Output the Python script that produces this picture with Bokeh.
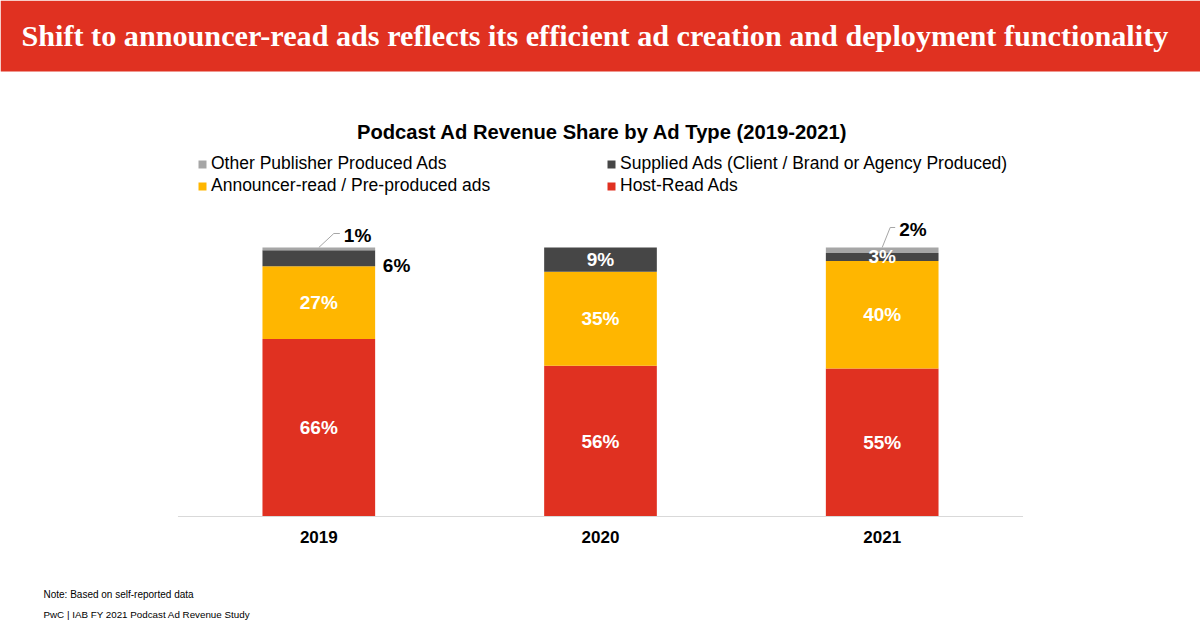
from bokeh.plotting import figure
from bokeh.models import (ColumnDataSource, FactorRange, Range1d, Label,
                          BoxAnnotation, Legend, LegendItem)
from bokeh.core.properties import value
from bokeh.embed import file_html
from bokeh.resources import INLINE

# ---------------- data ----------------
years = ["2019", "2020", "2021"]
host_read = [66, 56, 55]
announcer_read = [27, 35, 40]
supplied = [6, 9, 3]
other_publisher = [1, 0, 2]

series_keys = ["host", "announcer", "supplied", "other"]
series_names = ["Host-Read Ads", "Announcer-read / Pre-produced ads",
                "Supplied Ads (Client / Brand or Agency Produced)",
                "Other Publisher Produced Ads"]
series_colors = ["#E03121", "#FFB600", "#464646", "#A6A6A6"]

header_text = "Shift to announcer-read ads reflects its efficient ad creation and deployment functionality"
chart_title = "Podcast Ad Revenue Share by Ad Type (2019-2021)"
note_text = "Note: Based on self-reported data"
source_text = "PwC  |  IAB FY 2021 Podcast Ad Revenue Study"

RED = "#E03121"
SANS = "Liberation Sans"

values = {"host": host_read, "announcer": announcer_read,
          "supplied": supplied, "other": other_publisher}

src = ColumnDataSource(dict(year=years, **values))

p = figure(width=1200, height=642,
           x_range=FactorRange(*years, range_padding=0.63, range_padding_units="absolute"),
           y_range=Range1d(-46.84, 191.82),
           output_backend="svg", toolbar_location=None, min_border=0,
           x_axis_location=None, y_axis_location=None,
           outline_line_color=None, background_fill_color="white",
           border_fill_color="white")
p.grid.visible = False

renderers = p.vbar_stack(series_keys, x="year", width=0.40, color=series_colors,
                         line_color=None, source=src)

# baseline
p.segment(x0=[0], y0=[0], x1=[len(years)], y1=[0], line_color="#D9D9D9", line_width=1.2)

# year labels
p.text(x=years, y=[0] * len(years), text=years, y_offset=21,
       text_align="center", text_baseline="middle",
       text_font=value(SANS), text_font_style="bold", text_font_size="17px",
       text_color="#000000")

# segment labels
in_x, in_y, in_t = [], [], []
out_x, out_y, out_t, out_dx, out_dy = [], [], [], [], []
lead_xs, lead_ys = [], []
for i, yr in enumerate(years):
    base = 0
    for key in series_keys:
        v = values[key][i]
        mid = base + v / 2
        top = base + v
        base = top
        if v == 0:
            continue
        txt = f"{v}%"
        if key == "other":
            cx = i + 0.5
            if yr == "2019":
                lead_xs.append([cx, cx + 15 / 281.6, cx + 21 / 281.6])
                lead_ys.append([top, top + 14 / 2.69, top + 14 / 2.69])
                out_x.append(yr); out_y.append(top); out_t.append(txt)
                out_dx.append(25); out_dy.append(-12)
            else:
                lead_xs.append([cx, cx + 8 / 281.6, cx + 13 / 281.6])
                lead_ys.append([top, top + 20 / 2.69, top + 20 / 2.69])
                out_x.append(yr); out_y.append(top); out_t.append(txt)
                out_dx.append(17); out_dy.append(-18)
        elif key == "supplied" and v < 8 and yr == "2019":
            out_x.append(yr); out_y.append(mid); out_t.append(txt)
            out_dx.append(64); out_dy.append(7)
        else:
            in_x.append(yr); in_y.append(mid); in_t.append(txt)

p.text(x=in_x, y=in_y, text=in_t, text_align="center", text_baseline="middle",
       text_font=value(SANS), text_font_style="bold", text_font_size="19px",
       text_color="white")
p.text(x=out_x, y=out_y, text=out_t, x_offset=out_dx, y_offset=out_dy,
       text_align="left", text_baseline="middle",
       text_font=value(SANS), text_font_style="bold", text_font_size="19px",
       text_color="black")
p.multi_line(xs=lead_xs, ys=lead_ys, line_color="#A6A6A6", line_width=1)

# header band
p.add_layout(BoxAnnotation(bottom=642 - 71, bottom_units="screen",
                           fill_color=RED, fill_alpha=1.0, line_color=None))
p.add_layout(Label(x=21, y=642 - 35, x_units="screen", y_units="screen",
                   text=header_text, text_font="Liberation Serif",
                   text_font_style="bold", text_font_size="30.2px",
                   text_color="white", text_baseline="middle"))

# chart title
p.add_layout(Label(x=602, y=642 - 131, x_units="screen", y_units="screen",
                   text=chart_title, text_font=SANS, text_font_style="bold",
                   text_font_size="20.2px", text_color="black",
                   text_align="center", text_baseline="middle"))

# footer
p.add_layout(Label(x=43, y=642 - 594, x_units="screen", y_units="screen",
                   text=note_text, text_font=SANS, text_font_size="10px",
                   text_color="black", text_baseline="middle"))
p.add_layout(Label(x=43, y=642 - 614, x_units="screen", y_units="screen",
                   text=source_text, text_font=SANS, text_font_size="9.8px",
                   text_color="black", text_baseline="middle"))

# legend
order = [3, 1, 2, 0]
items = [LegendItem(label=series_names[k], renderers=[renderers[k]]) for k in order]
legend = Legend(items=items, location=(197, 642 - 196), nrows=2,
                orientation="vertical",
                glyph_width=10, glyph_height=10, label_standoff=4,
                label_text_font=SANS, label_text_font_size="17.5px",
                label_text_color="#000000", label_width=394, spacing=1,
                padding=0, margin=0, border_line_color=None,
                background_fill_alpha=0)
p.add_layout(legend)

open("out.html", "w").write(file_html(p, INLINE))
